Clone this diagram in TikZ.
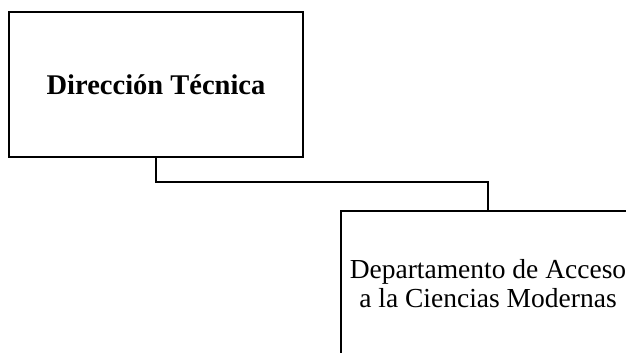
\documentclass[tikz,border=0pt]{standalone}
\usepackage{fontspec}
\setmainfont{Liberation Serif}
\begin{document}
\begin{tikzpicture}[x=1pt,y=-1pt,
  orgbox/.style={draw=black, line width=1.9pt, minimum width=294pt, minimum height=145pt, inner sep=0pt, align=center},
  link/.style={draw=black, line width=1.9pt}]
\useasboundingbox (0,0) rectangle (626,353);
\clip (0,0) rectangle (626,353);
\node[orgbox, font=\fontsize{28.5}{28.5}\selectfont\bfseries] (dir) at (156,84.5) {Dirección Técnica};
\node[orgbox, font=\fontsize{27.5}{28.5}\selectfont] (dep) at (488,283.5) {Departamento de Acceso\\a la Ciencias Modernas};
\draw[link] (dir.south) -- ++(0,24) -| (dep.north);
\end{tikzpicture}
\end{document}
